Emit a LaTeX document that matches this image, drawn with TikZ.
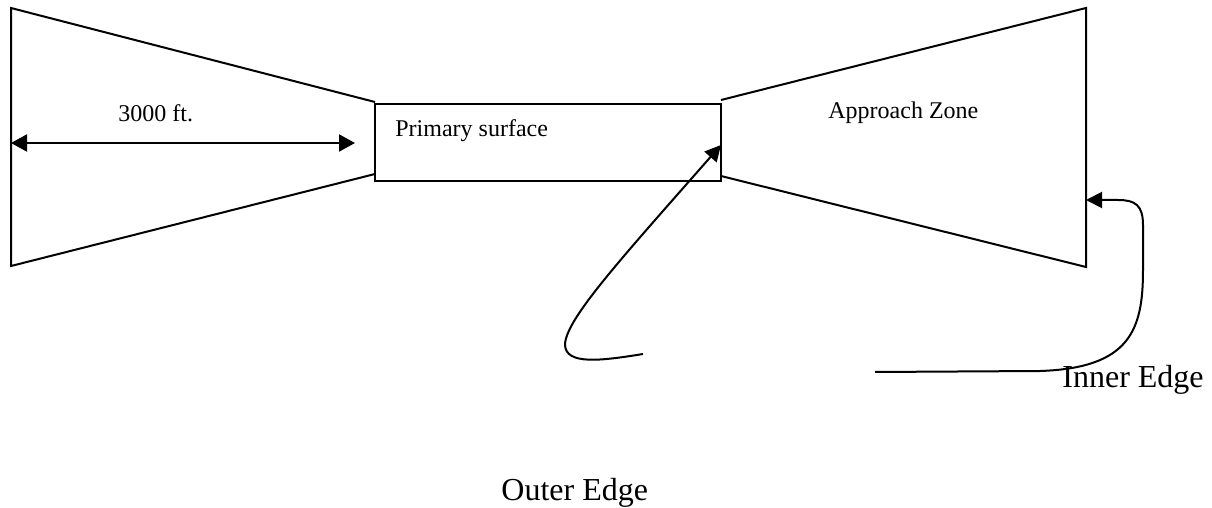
\documentclass[tikz,border=0pt]{standalone}
\usepackage{fontspec}
\setmainfont{Liberation Serif}
\usetikzlibrary{arrows.meta}
\tikzset{
  outline/.style={line width=1pt, line join=miter},
  pointer/.style={line width=1pt, -{Triangle[length=8pt,width=8pt]}},
  dimline/.style={line width=1pt, {Triangle[length=8pt,width=8.5pt]}-{Triangle[length=8pt,width=8.5pt]}},
  smalllabel/.style={inner sep=0pt, anchor=base west, font=\fontsize{12}{14}\selectfont},
  biglabel/.style={inner sep=0pt, anchor=base west, font=\fontsize{16}{19}\selectfont}
}
\begin{document}
\begin{tikzpicture}[x=0.5pt, y=-0.5pt]
  \useasboundingbox (0,0) rectangle (1212,508);

  % left trapezoid
  \coordinate (LTL) at (11,8);
  \coordinate (LBL) at (11,266);
  \coordinate (LTR) at (375,102);
  \coordinate (LBR) at (375,174);
  \draw[outline] (LTR) -- (LTL) -- (LBL) -- (LBR);

  % primary surface
  \coordinate (PTL) at (375,104);
  \coordinate (PBR) at (721,181);
  \draw[outline] (PTL) rectangle (PBR);
  \coordinate (PE) at (721,145);

  % right trapezoid (approach zone)
  \coordinate (RTL) at (721,100);
  \coordinate (RBL) at (721,176);
  \coordinate (RTR) at (1086,8);
  \coordinate (RBR) at (1086,267);
  \draw[outline] (RTL) -- (RTR) -- (RBR) -- (RBL);
  \coordinate (RE) at (1086,200);

  % dimension
  \coordinate (DA) at (11,143);
  \coordinate (DB) at (355,143);
  \draw[dimline] (DA) -- (DB);

  % labels
  \node[smalllabel] (dim) at (118,122) {3000 ft.};
  \node[smalllabel] (prim) at (395,137) {Primary surface};
  \node[smalllabel] (appr) at (828,119) {Approach Zone};
  \node[biglabel] (inner) at (1062,387) {Inner Edge};
  \node[biglabel] (outer) at (501,500) {Outer Edge};

  % leader curves
  \coordinate (OS) at (643,354);
  \coordinate (IS) at (875,372);
  \draw[pointer] (OS) .. controls (600,361) and (566,365) .. (565,345)
                 .. controls (565,320) and (620,260) .. (PE);
  \draw[pointer] (IS) -- (1040,371)
                 .. controls (1130,368) and (1143,330) .. (1143,270)
                 -- (1143,225)
                 .. controls (1143,205) and (1135,200) .. (1118,200) -- (RE);
\end{tikzpicture}
\end{document}
